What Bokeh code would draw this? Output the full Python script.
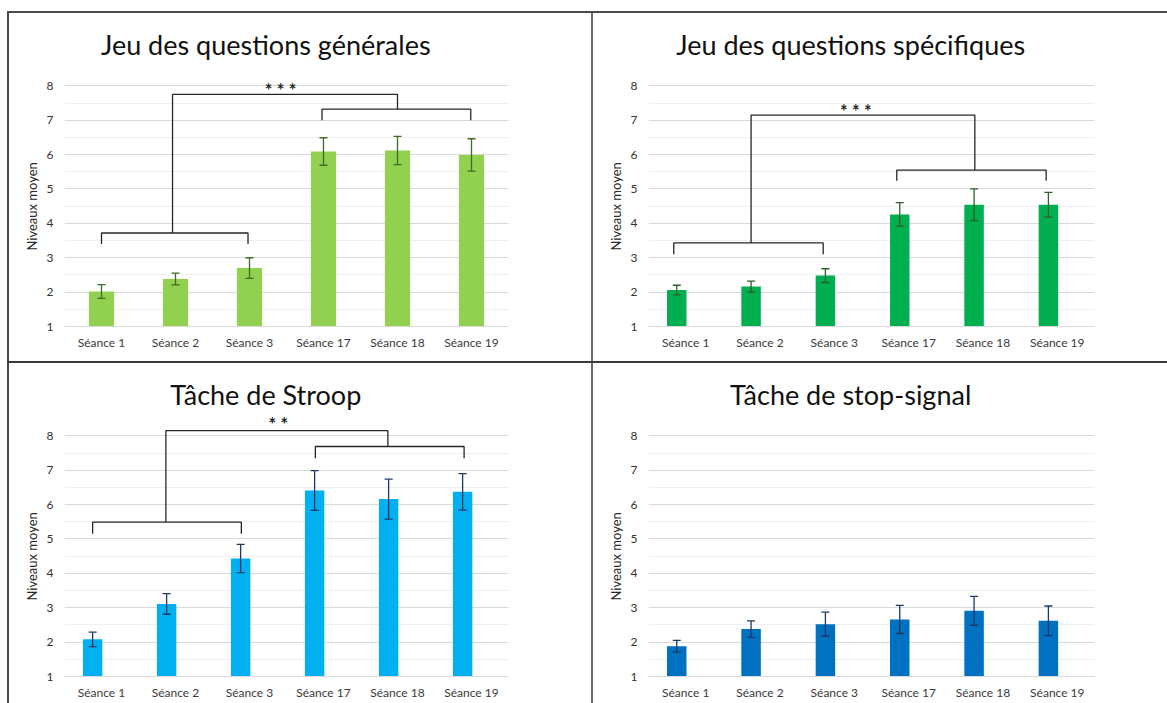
from bokeh.plotting import figure
from bokeh.models import (Range1d, FixedTicker, Whisker, TeeHead, ColumnDataSource, Label,
                          Div, Title)
from bokeh.layouts import column, row
from bokeh.embed import file_html
from bokeh.resources import INLINE
from bokeh.core.properties import value

# ---------------- data ----------------
sessions = ["Séance 1", "Séance 2", "Séance 3", "Séance 17", "Séance 18", "Séance 19"]
titles = ["Jeu des questions générales", "Jeu des questions spécifiques",
          "Tâche de Stroop", "Tâche de stop-signal"]
y_label = "Niveaux moyen"
y_ticks = [1, 2, 3, 4, 5, 6, 7, 8]

gen_mean = [2.02, 2.38, 2.70, 6.09, 6.12, 5.99]
gen_err = [0.20, 0.17, 0.30, 0.40, 0.41, 0.47]
spe_mean = [2.06, 2.16, 2.48, 4.26, 4.54, 4.54]
spe_err = [0.14, 0.16, 0.20, 0.34, 0.46, 0.36]
stroop_mean = [2.08, 3.11, 4.43, 6.41, 6.16, 6.37]
stroop_err = [0.21, 0.30, 0.41, 0.58, 0.58, 0.53]
stop_mean = [1.88, 2.38, 2.52, 2.66, 2.91, 2.62]
stop_err = [0.17, 0.24, 0.35, 0.41, 0.42, 0.43]

# significance brackets: [left x0, left x1, left y, left leg,
#                         right x0, right x1, right y, right leg,
#                         connector x left, connector top y, connector x right]
gen_bracket = [0.0, 1.98, 3.72, 3.40, 2.98, 4.99, 7.32, 7.00, 0.96, 7.75, 4.00]
spe_bracket = [-0.16, 1.85, 3.43, 3.10, 2.84, 4.85, 5.55, 5.24, 0.88, 7.15, 3.89]
stroop_bracket = [-0.12, 1.89, 5.49, 5.15, 2.89, 4.90, 7.69, 7.35, 0.87, 8.15, 3.87]
# significance marks: [text, x, y]
gen_stars = ["* * *", 2.42, 7.88]
spe_stars = ["* * *", 2.29, 7.26]
stroop_stars = ["* *", 2.39, 8.33]

FONT = "Lato"


def make_panel(title, means, errs, color, err_color, bar_w, offset, bracket, stars,
               width, height, bl, br, bt, bb):
    p = figure(width=width, height=height, x_range=Range1d(-0.5, 5.5),
               y_range=Range1d(1, 9.9), output_backend="svg", toolbar_location=None,
               min_border_left=bl, min_border_right=br, min_border_top=bt,
               min_border_bottom=bb, margin=(0, 0, 0, 0))
    p.outline_line_color = None
    p.background_fill_color = "white"
    p.border_fill_color = "white"

    xs = [i + offset for i in range(len(sessions))]
    p.vbar(x=xs, top=means, bottom=1, width=bar_w, fill_color=color, line_color=None)

    src = ColumnDataSource(dict(base=xs,
                                upper=[m + e for m, e in zip(means, errs)],
                                lower=[m - e for m, e in zip(means, errs)]))
    w = Whisker(base="base", upper="upper", lower="lower", source=src,
                line_color=err_color, line_width=1.3, level="overlay",
                upper_head=TeeHead(size=8, line_color=err_color, line_width=1.3),
                lower_head=TeeHead(size=8, line_color=err_color, line_width=1.3))
    p.add_layout(w)

    if bracket is not None:
        lx0, lx1, ly, lleg, rx0, rx1, ry, rleg, cxl, ty, cxr = bracket
        p.multi_line(xs=[[lx0, lx0, lx1, lx1], [rx0, rx0, rx1, rx1], [cxl, cxl, cxr, cxr]],
                     ys=[[lleg, ly, ly, lleg], [rleg, ry, ry, rleg], [ly, ty, ty, ry]],
                     line_color="#262626", line_width=1.3)
        p.text(x=[stars[1]], y=[stars[2]], text=[stars[0]], text_align="center",
               text_baseline="middle", text_font=value(FONT),
               text_font_size="18px", text_font_style="bold", text_color="#262626")

    p.add_layout(Label(x=2.22, y=9.2, text=title, text_align="center",
                       text_baseline="alphabetic", text_font=FONT,
                       text_font_size="27px", text_color="#111111"))

    # x axis
    p.xaxis.ticker = FixedTicker(ticks=list(range(len(sessions))))
    p.xaxis.major_label_overrides = {i: s for i, s in enumerate(sessions)}
    p.xaxis.major_label_text_font = FONT
    p.xaxis.major_label_text_font_size = "12px"
    p.xaxis.major_label_text_color = "#3a3a3a"
    p.xaxis.major_label_standoff = 2
    p.xaxis.major_tick_line_color = None
    p.xaxis.minor_tick_line_color = None
    p.xaxis.axis_line_color = "#d9d9d9"
    p.xgrid.grid_line_color = None

    # y axis
    yt = FixedTicker(ticks=y_ticks, minor_ticks=[t + 0.5 for t in y_ticks[:-1]])
    p.yaxis.ticker = yt
    p.ygrid.ticker = yt
    p.yaxis.major_label_text_font = FONT
    p.yaxis.major_label_text_font_size = "12px"
    p.yaxis.major_label_text_color = "#333333"
    p.yaxis.major_label_standoff = 5
    p.yaxis.major_tick_line_color = None
    p.yaxis.minor_tick_line_color = None
    p.yaxis.axis_line_color = None
    p.ygrid.grid_line_color = "#d9d9d9"
    p.ygrid.minor_grid_line_color = "#efefef"

    # y axis title, placed along the 1..8 part of the axis
    p.add_layout(Title(text=y_label, align="left", offset=76, vertical_align="middle",
                       standoff=6, text_font=FONT, text_font_size="13px",
                       text_font_style="normal", text_color="#262626"), "left")
    return p


LW, RW = 582, 574
TH, BH = 348, 340

p1 = make_panel(titles[0], gen_mean, gen_err, "#92D050", "#3E6B25", 0.34, 0.0,
                gen_bracket, gen_stars, LW, TH, 55, 83, 7, 35)
p2 = make_panel(titles[1], spe_mean, spe_err, "#00B050", "#2F5E2A", 0.262, -0.12,
                spe_bracket, spe_stars, RW, TH, 55, 73, 7, 35)
p3 = make_panel(titles[2], stroop_mean, stroop_err, "#00B0F0", "#1F3864", 0.262, -0.12,
                stroop_bracket, stroop_stars, LW, BH, 55, 83, 7, 27)
p4 = make_panel(titles[3], stop_mean, stop_err, "#0070C0", "#1F3864", 0.262, -0.12,
                None, None, RW, BH, 55, 73, 7, 27)


def bar(w, h, c):
    return Div(text="", width=w, height=h, margin=(0, 0, 0, 0),
               styles={"background-color": c})


def gap(w, h):
    return Div(text="", width=w, height=h, margin=(0, 0, 0, 0))


TOTAL_W = 7 + 2 + LW + 2 + RW
p = column(
    gap(TOTAL_W, 11),
    row(gap(7, 2), bar(TOTAL_W - 7, 2, "#4a4a4a"), spacing=0),
    row(gap(7, TH), bar(2, TH, "#4a4a4a"), p1, bar(2, TH, "#6a6a6a"), p2, spacing=0),
    row(gap(7, 2), bar(TOTAL_W - 7, 2, "#3a3a3a"), spacing=0),
    row(gap(7, BH), bar(2, BH, "#4a4a4a"), p3, bar(2, BH, "#6a6a6a"), p4, spacing=0),
    spacing=0,
)

open("out.html", "w").write(file_html(p, INLINE))
